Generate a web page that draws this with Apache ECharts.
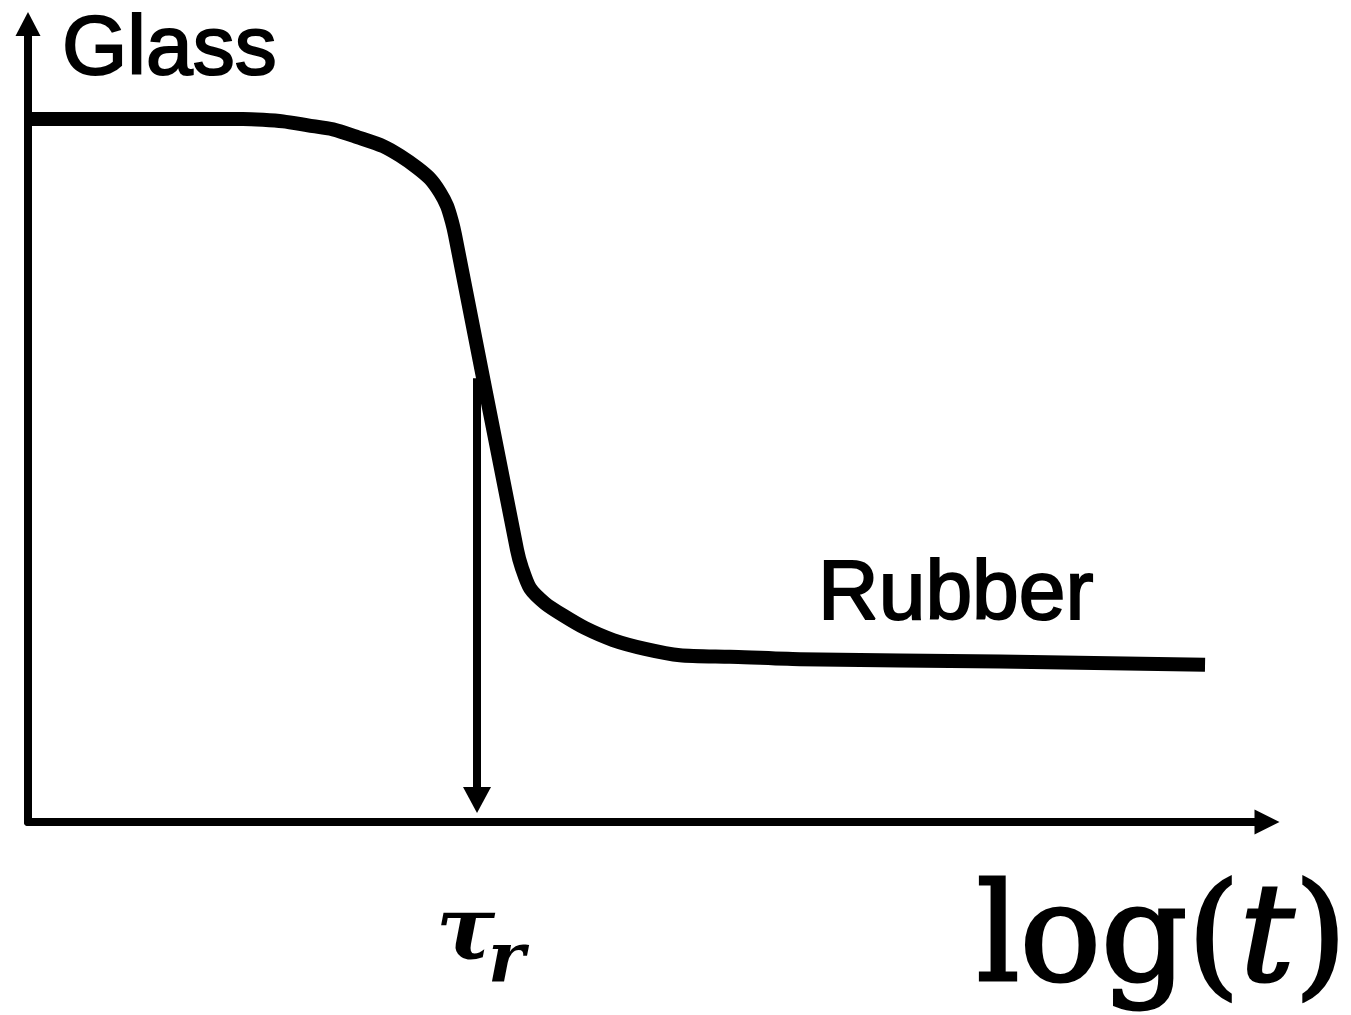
<!DOCTYPE html>
<html>
<head>
<meta charset="utf-8">
<title>Relaxation modulus vs log(t)</title>
<script src="https://cdn.jsdelivr.net/npm/echarts@6/dist/echarts.min.js"></script>
<style>
  html, body { margin: 0; padding: 0; background: #fff; }
  #chart { width: 1351px; height: 1015px; }
</style>
</head>
<body>
<div id="chart"></div>
<script>
// Modulus curve: glassy plateau, steep transition, rubbery plateau (arbitrary units)
const logTime = [0, 17.35, 18.97, 20.58, 22.60, 24.62, 26.63, 28.65, 30.02, 31.40, 32.45, 33.25, 33.82, 34.22, 34.46,
                 39.47, 39.87, 40.52, 41.73, 43.18, 44.96, 47.22, 49.80, 52.62, 56.66, 62.31, 78.45, 95.0];
const modulus = [88.1, 88.1, 88.0, 87.8, 87.3, 86.8, 85.8, 84.7, 83.5, 82.0, 80.6, 78.9, 77.2, 75.2, 73.6,
                 34.1, 31.8, 29.3, 27.4, 25.9, 24.3, 22.8, 21.7, 20.9, 20.7, 20.4, 20.1, 19.7];

// Relaxation time marker: drops from the curve down to the time axis
const tauX = 36.24;
const tauTop = 55.6;
const tauBottom = 2.76;

const regionLabels = ['Glass', 'Rubber'];

const chart = echarts.init(document.getElementById('chart'), null, { renderer: 'canvas' });

const axisLine = (size) => ({
  show: true,
  symbol: ['none', 'triangle'],
  symbolSize: size,
  lineStyle: { color: '#000', width: 8 }
});

const sansLabel = { font: '84px "Liberation Sans", Arial, sans-serif', fill: '#000', stroke: '#000', lineWidth: 2 };

chart.setOption({
  animation: false,
  backgroundColor: '#fff',
  grid: { left: 28, right: 84, top: 24, bottom: 193 },
  xAxis: {
    type: 'value', min: 0, max: 100,
    axisLine: axisLine([25, 25]),
    axisTick: { show: false }, axisLabel: { show: false }, splitLine: { show: false }
  },
  yAxis: {
    type: 'value', min: 0, max: 100,
    axisLine: axisLine([25, 24]),
    axisTick: { show: false }, axisLabel: { show: false }, splitLine: { show: false }
  },
  series: [{
    type: 'line',
    data: logTime.map((x, i) => [x, modulus[i]]),
    symbol: 'none',
    smooth: 0.25,
    lineStyle: { color: '#000', width: 14, cap: 'butt', join: 'round' },
    markLine: {
      silent: true,
      symbol: ['none', 'triangle'],
      symbolSize: [28, 26],
      label: { show: false },
      lineStyle: { color: '#000', width: 8, type: 'solid' },
      data: [[{ coord: [tauX, tauTop] }, { coord: [tauX, tauBottom] }]]
    }
  }],
  graphic: [
    { type: 'text', left: 61, top: 8, style: Object.assign({ text: regionLabels[0] }, sansLabel) },
    { type: 'text', left: 817, top: 553, style: Object.assign({ text: regionLabels[1] }, sansLabel) },
    {
      type: 'text', left: 436, top: 892,
      style: { text: 'τ', font: 'italic bold 88px "DejaVu Serif", serif', fill: '#000' }
    },
    {
      type: 'text', left: 488, top: 928,
      style: { text: 'r', font: 'italic bold 70px "DejaVu Serif", serif', fill: '#000' }
    },
    {
      type: 'text', left: 975, top: 876,
      style: {
        text: 'log({t|t})',
        font: '135px "DejaVu Serif", serif',
        fill: '#000', stroke: '#000', lineWidth: 3,
        rich: { t: { fontFamily: 'DejaVu Serif', fontSize: 135, fontStyle: 'italic', fill: '#000', stroke: '#000', lineWidth: 3 } }
      }
    }
  ]
});
</script>
</body>
</html>
